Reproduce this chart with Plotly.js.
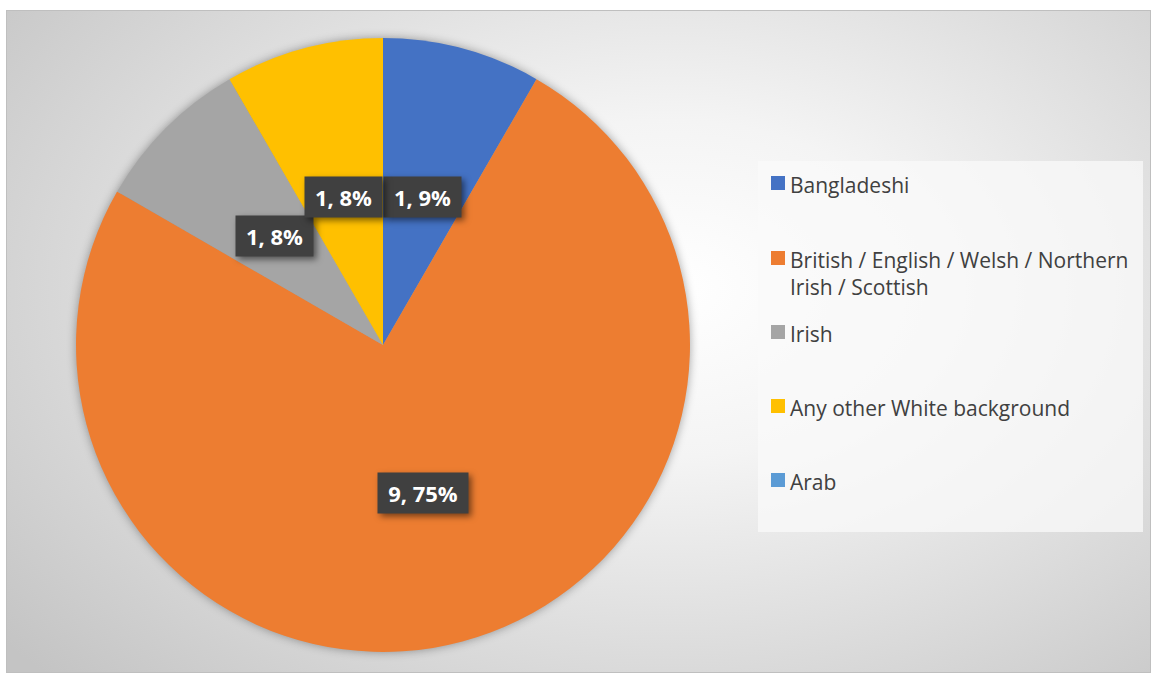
<!DOCTYPE html>
<html>
<head>
<meta charset="utf-8">
<script src="https://cdn.plot.ly/plotly-3.0.1.min.js"></script>
<style>
  html, body { margin: 0; padding: 0; background: #ffffff; }
  #frame {
    position: absolute; left: 6px; top: 10px; width: 1143px; height: 661px;
    border: 1px solid #bfbfbf;
    background: radial-gradient(ellipse 75% 85% at 58% 42%, #ffffff 0%, #f4f4f4 30%, #dcdcdc 65%, #c4c4c4 100%);
  }
  #chart { position: absolute; left: 0; top: 0; width: 1152px; height: 675px; }
  #chart .pielayer { filter: drop-shadow(0px 0px 5px rgba(0,0,0,0.35)); }
  #chart .annotation.datalabel .bg { filter: drop-shadow(3px 3px 3px rgba(0,0,0,0.5)); }
</style>
</head>
<body>
<div id="frame"></div>
<div id="chart"></div>
<script>
// ---- data ----
const categories = ["Bangladeshi", "British / English / Welsh / Northern Irish / Scottish", "Irish", "Any other White background", "Arab"];
const legendLabels = ["Bangladeshi", "British / English / Welsh / Northern<br>Irish / Scottish", "Irish", "Any other White background", "Arab"];
const counts = [1, 9, 1, 1, 0];
const percentLabels = [9, 75, 8, 8, 0];
const colors = ["#4472C4", "#ED7D31", "#A5A5A5", "#FFC000", "#5B9BD5"];

// ---- layout geometry ----
const W = 1152, H = 675;
const cx = 383, cy = 345, R = 307;
const px = v => v / W;
const py = v => 1 - v / H;

const pie = {
  type: "pie",
  labels: categories,
  values: counts,
  sort: false,
  direction: "clockwise",
  rotation: 0,
  marker: { colors: colors, line: { width: 0 } },
  textinfo: "none",
  hoverinfo: "label+value+percent",
  showlegend: false,
  domain: { x: [px(cx - R), px(cx + R)], y: [py(cy + R), py(cy - R)] }
};

const annotations = [];
const shapes = [];

// data labels at half radius along each slice's mid-angle
const total = counts.reduce((a, b) => a + b, 0);
let cum = 0;
counts.forEach((v, i) => {
  const mid = (cum + v / 2) / total * 2 * Math.PI;
  cum += v;
  if (v === 0) return;
  const lx = cx + 0.5 * R * Math.sin(mid);
  const ly = cy - 0.5 * R * Math.cos(mid);
  const txt = v + ", " + percentLabels[i] + "%";
  annotations.push({
    xref: "paper", yref: "paper", x: px(lx), y: py(ly),
    xanchor: "center", yanchor: "middle",
    text: "<b>" + txt + "</b>",
    showarrow: false,
    font: { family: "Open Sans, sans-serif", size: 22, color: "#ffffff" },
    bgcolor: "#404040",
    width: 13 * txt.length + 12, height: 40, borderpad: 0
  });
});

// custom legend box
shapes.push({
  type: "rect", xref: "paper", yref: "paper",
  x0: px(758), x1: px(1143), y0: py(532), y1: py(161),
  fillcolor: "rgba(250,250,250,0.75)", line: { width: 0 }, layer: "below"
});
const legendY = [183, 258, 332, 406, 480];
legendLabels.forEach((lab, i) => {
  const y = legendY[i];
  shapes.push({
    type: "rect", xref: "paper", yref: "paper",
    x0: px(771), x1: px(785), y0: py(y + 7), y1: py(y - 7),
    fillcolor: colors[i], line: { width: 0 }
  });
  annotations.push({
    xref: "paper", yref: "paper", x: px(788), y: py(y - 14),
    xanchor: "left", yanchor: "top", align: "left",
    text: lab, showarrow: false,
    font: { family: "Open Sans, sans-serif", size: 21, color: "#404040" }
  });
});

const layout = {
  width: W, height: H,
  margin: { l: 0, r: 0, t: 0, b: 0 },
  paper_bgcolor: "rgba(0,0,0,0)",
  plot_bgcolor: "rgba(0,0,0,0)",
  showlegend: false,
  annotations: annotations,
  shapes: shapes
};

Plotly.newPlot("chart", [pie], layout, { displayModeBar: false, staticPlot: true }).then(() => {
  document.querySelectorAll("#chart .annotation").forEach(g => {
    if (/%$/.test(g.textContent)) g.classList.add("datalabel");
  });
});
</script>
</body>
</html>
